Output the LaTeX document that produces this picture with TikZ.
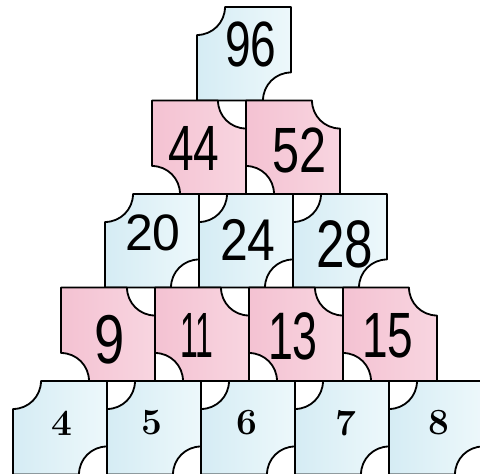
\documentclass[tikz,border=0pt]{standalone}
\usepackage{fontspec}
\usepackage{graphicx}
\newfontfamily\handfont{Liberation Sans}
\definecolor{blueL}{HTML}{D5ECF4}
\definecolor{blueR}{HTML}{EDF8FB}
\definecolor{pinkL}{HTML}{F4C2D2}
\definecolor{pinkR}{HTML}{F8D5E0}
\tikzset{
  tileedge/.style={draw=black, line width=1.8pt, line join=round},
  bluetile/.style={tileedge, left color=blueL, right color=blueR},
  pinktile/.style={tileedge, left color=pinkL, right color=pinkR},
  handnum/.style={font=\handfont\fontsize{64}{70}\selectfont, inner sep=0pt},
  printnum/.style={font=\fontsize{37}{42}\selectfont\bfseries, inner sep=0pt},
}
% tile with notches at top-left and bottom-right: #1 left x, #2 top y, #3 style
\newcommand\pyrTileA[3]{%
  \path[#3] (#1+28,#2) -- (#1+94,#2) -- (#1+94,#2-65.5)
    arc[start angle=90,end angle=180,radius=28pt] -- (#1,#2-93.5) -- (#1,#2-28)
    arc[start angle=270,end angle=360,radius=28pt] -- cycle;}
% tile with notches at top-right and bottom-left
\newcommand\pyrTileB[3]{%
  \path[#3] (#1,#2) -- (#1+66,#2)
    arc[start angle=180,end angle=270,radius=28pt] -- (#1+94,#2-93.5) -- (#1+28,#2-93.5)
    arc[start angle=0,end angle=90,radius=28pt] -- cycle;}
\begin{document}
\begin{tikzpicture}[x=1pt,y=1pt]
\useasboundingbox (0,0) rectangle (480,474);
% row 1
\pyrTileA{197}{467}{bluetile}
% row 2
\foreach \i in {0,1} {\pyrTileB{152+94*\i}{373.5}{pinktile}}
% row 3
\foreach \i in {0,1,2} {\pyrTileA{105+94*\i}{280}{bluetile}}
% row 4
\foreach \i in {0,1,2,3} {\pyrTileB{61+94*\i}{186.5}{pinktile}}
% row 5
\foreach \i in {0,1,2,3,4} {\pyrTileA{13+94*\i}{93}{bluetile}}
% numbers
\node[handnum] (n96) at (251,430) {\scalebox{0.72}[1]{96}};
\node[handnum] (n44) at (194,326) {\scalebox{0.72}[1]{44}};
\node[handnum] (n52) at (300,324) {\scalebox{0.76}[1]{52}};
\node[handnum] (n20) at (153,241) {\scalebox{0.78}[0.8]{20}};
\node[handnum] (n24) at (248,234) {\scalebox{0.78}[0.92]{24}};
\node[handnum] (n28) at (345,230) {\scalebox{0.8}[1.05]{28}};
\node[handnum] (n9)  at (110,134) {\scalebox{0.85}[1.08]{9}};
\node[handnum] (n11) at (197,139) {\scalebox{0.5}[1]{11}};
\node[handnum] (n13) at (293,138) {\scalebox{0.7}[1.05]{13}};
\node[handnum] (n15) at (388,138) {\scalebox{0.72}[1]{15}};
\node[printnum] (p4) at (62,51) {4};
\node[printnum] (p5) at (152,51) {5};
\node[printnum] (p6) at (247,51) {6};
\node[printnum] (p7) at (346,51) {7};
\node[printnum] (p8) at (439,51) {8};
\end{tikzpicture}
\end{document}
